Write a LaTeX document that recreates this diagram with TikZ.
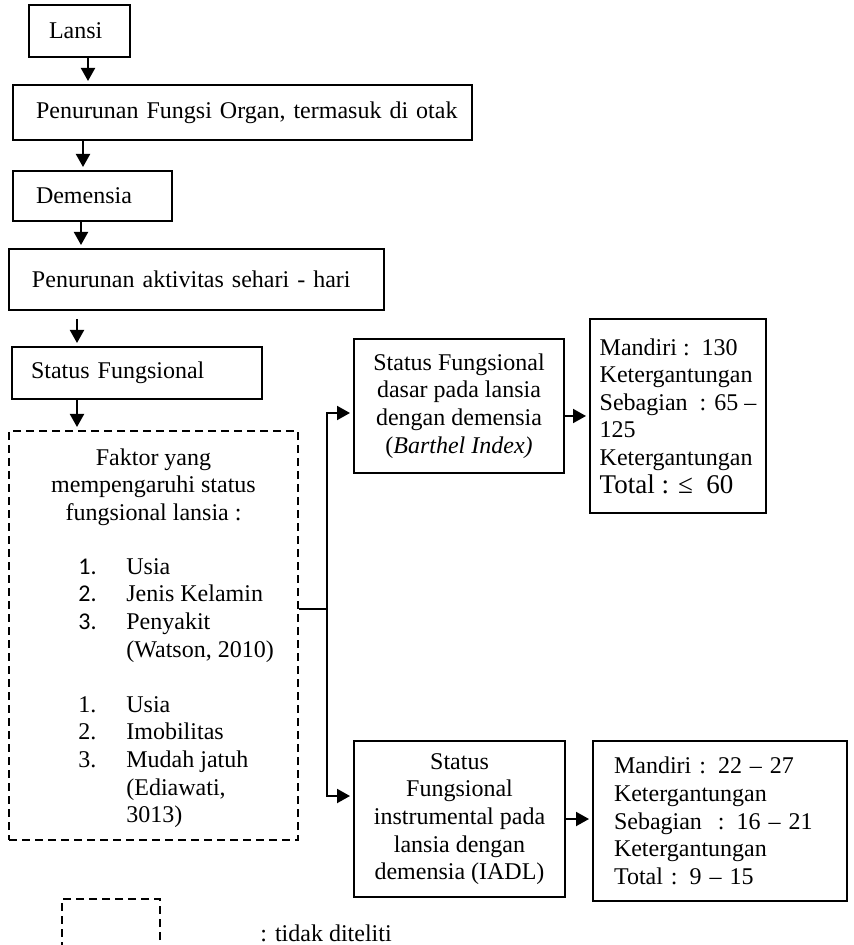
\documentclass[tikz,border=0pt]{standalone}
\usepackage{fontspec}
\setmainfont{Liberation Serif}
\newfontfamily\angka{Carlito}
\usepackage{tikz}
\usetikzlibrary{arrows.meta, positioning}
\newcommand{\butir}[1]{\makebox[24pt][l]{#1}}

\begin{document}
\begin{tikzpicture}[
    x=0.5pt, y=-0.5pt,
    font=\fontsize{12}{13.8}\selectfont,
    kotak/.style={draw, line width=1pt, anchor=north west, align=left, inner xsep=11pt, inner ysep=0pt},
    tengah/.style={draw, line width=1pt, anchor=north west, align=center, inner sep=0pt},
    putus/.style={draw, line width=1pt, dash pattern=on 4pt off 2.5pt, anchor=north west, inner sep=0pt},
    panah/.style={-{Triangle[length=6.5pt, width=7pt]}, line width=1pt, shorten >=1.5pt},
]
\useasboundingbox (0,0) rectangle (854,945);

\node[kotak, inner xsep=10pt, text width=30.5pt, minimum height=26pt] (lansi) at (28,4) {Lansi};
\node[kotak, inner xsep=11.5pt, text width=206.5pt, minimum height=27.5pt] (fungsi) at (12,84) {\mbox{Penurunan Fungsi Organ, termasuk di otak}};
\node[kotak, inner xsep=11.5pt, text width=56.5pt, minimum height=25pt] (demensia) at (12,170) {Demensia};
\node[kotak, inner xsep=11.5pt, text width=164.5pt, minimum height=30.5pt] (aktivitas) at (8,248) {Penurunan aktivitas sehari - hari};
\node[kotak, inner xsep=9.5pt, text width=106pt, minimum height=26pt] (status) at (11,346) {Status Fungsional};

\node[putus, minimum width=144.5pt, minimum height=204.5pt] (faktor) at (8,430) {};
\node[anchor=north, align=center, inner sep=0pt] (faktorjudul) at ([yshift=-9pt]faktor.north) {Faktor yang\\mempengaruhi status\\fungsional lansia :};
\node[anchor=north west, align=left, inner sep=0pt] (faktorisi) at (78,558) {%
    \butir{\angka 1.}Usia\\
    \butir{\angka 2.}Jenis Kelamin\\
    \butir{\angka 3.}Penyakit\\
    \butir{}(Watson, 2010)\\[13.8pt]
    \butir{1.}Usia\\
    \butir{2.}Imobilitas\\
    \butir{3.}Mudah jatuh\\
    \butir{}(Ediawati,\\
    \butir{}3013)};

\node[tengah, minimum width=105pt, minimum height=67pt] (barthel) at (353,338) {Status Fungsional\\dasar pada lansia\\dengan demensia\\(\textit{Barthel Index)}};
\node[kotak, inner xsep=0pt, minimum width=88pt, minimum height=97pt] (mandiri1) at (589,318) {Mandiri :\ \ 130\\Ketergantungan\\Sebagian\ \ : 65 –\\125\\Ketergantungan\\{\fontsize{13.5}{15}\selectfont Total : ≤\ \ 60}};
\node[tengah, minimum width=105.5pt, minimum height=78pt] (iadl) at (353,740) {Status\\Fungsional\\instrumental pada\\lansia dengan\\demensia (IADL)};
\node[kotak, inner xsep=10.5pt, text width=106pt, minimum height=80pt] (mandiri2) at (592,740) {Mandiri : 22 – 27\\Ketergantungan\\Sebagian\ \ : 16 – 21\\Ketergantungan\\Total\ : 9 – 15};

\node[putus, minimum width=49pt, minimum height=30pt] (legendakotak) at (61,898) {};
\node[anchor=west, inner sep=0pt] (legenda) at (260,933) {: tidak diteliti};

\draw[panah] ([xshift=4.25pt]lansi.south) -- ([xshift=4.25pt]lansi.south |- fungsi.north);
\draw[panah] ([xshift=35.5pt]fungsi.south west) -- ([xshift=35.5pt]fungsi.south west |- demensia.north);
\draw[panah] ([xshift=34.5pt]demensia.south west) -- ([xshift=34.5pt]demensia.south west |- aktivitas.north);
\draw[panah, shorten <=4pt] ([xshift=34.5pt]aktivitas.south west) -- ([xshift=34.5pt]aktivitas.south west |- status.north);
\draw[panah] ([xshift=33pt]status.south west) -- ([xshift=33pt]status.south west |- faktor.north);

\draw[line width=1pt] ([yshift=13.25pt]faktor.east) -- ++(14pt,0) coordinate (cabang);
\draw[panah] (cabang) |- ([yshift=-3.5pt]barthel.west);
\draw[panah] (cabang) |- ([yshift=11.5pt]iadl.west);
\draw[panah] (barthel.east |- mandiri1.west) -- (mandiri1.west);
\draw[panah] (iadl.east) -- (iadl.east -| mandiri2.west);

\end{tikzpicture}
\end{document}
